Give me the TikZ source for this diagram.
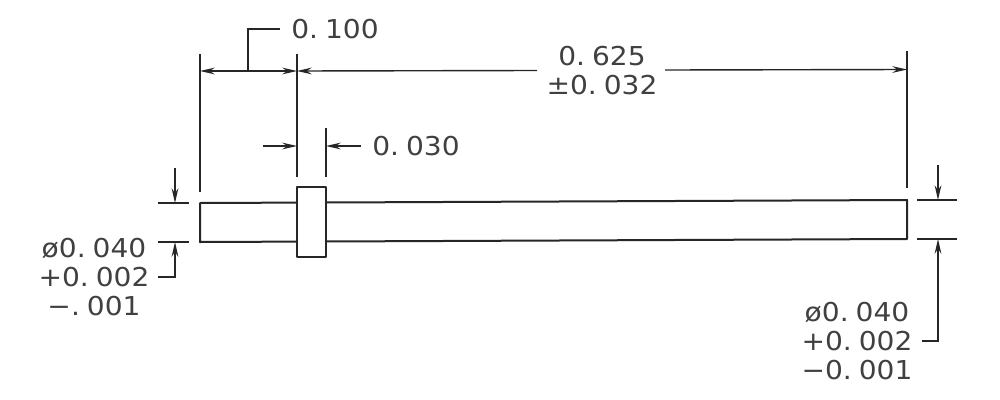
\documentclass[tikz,border=0pt]{standalone}
\usepackage{fontspec}
\newfontfamily\cadfont{DejaVu Sans}[FakeStretch=1.08,WordSpace=0.45]
\newcommand\cadsetup{\cadfont\fontsize{19.5pt}{21.75pt}\selectfont}
\usetikzlibrary{arrows.meta}
\tikzset{
  x=0.75pt,y=-0.75pt,
  part/.style={line width=1.5pt,draw=black!85,line join=round},
  thin line/.style={line width=1.05pt,draw=black!85},
  dimarrow/.style={thin line,-{Stealth[length=11pt,width=5pt]}},
  dimtext/.style={inner sep=0pt,align=center,text=black!75,font=\cadsetup}
}
\begin{document}
\begin{tikzpicture}
\useasboundingbox (0,0) rectangle (1000,400);
% text
\node[dimtext] (t100) at (335,29) {0. 100};
\node[dimtext] (t625) at (602,70.5) {0. 625\\±0. 032};
\node[dimtext] (t030) at (416,146) {0. 030};
\node[dimtext] (tleft) at (94,277) {ø0. 040\\+0. 002\\−. 001};
\node[dimtext] (tright) at (857,341) {ø0. 040\\+0. 002\\−0. 001};
% named points
\coordinate (pinTL) at (200,203);
\coordinate (pinTR) at (907,200);
\coordinate (pinBR) at (907,239);
\coordinate (pinBL) at (200,242);
\coordinate (colTL) at (297,187);
\coordinate (colBR) at (326,257);
\coordinate (pinT1) at (297,202.6);
\coordinate (pinT2) at (326,202.5);
\coordinate (pinB1) at (297,241.6);
\coordinate (pinB2) at (326,241.5);
\coordinate (eA1) at (200,54);
\coordinate (eA2) at (200,192);
\coordinate (eB1) at (297,54);
\coordinate (eB2) at (297,177);
\coordinate (eC1) at (326,128);
\coordinate (eC2) at (326,177);
\coordinate (eD1) at (907,51);
\coordinate (eD2) at (907,188);
\coordinate (dA) at (200,71);
\coordinate (dB) at (297,71);
\coordinate (dMid) at (248,71);
\coordinate (dUp) at (248,29);
\coordinate (dEnd) at (280,29);
\coordinate (g1) at (537,70.5);
\coordinate (g2) at (665,70);
\coordinate (dD) at (907,69.5);
\coordinate (n1) at (263,146);
\coordinate (n2) at (297,146);
\coordinate (n3) at (361,146);
\coordinate (n4) at (326,146);
\coordinate (l1a) at (158,203);
\coordinate (l1b) at (189,203);
\coordinate (l2a) at (158,242);
\coordinate (l2b) at (189,242);
\coordinate (la1) at (175,168);
\coordinate (la2) at (175,203);
\coordinate (la3) at (175,242);
\coordinate (la4) at (175,277);
\coordinate (la5) at (158,277);
\coordinate (r1a) at (917,200);
\coordinate (r1b) at (957,200);
\coordinate (r2a) at (917,239);
\coordinate (r2b) at (957,239);
\coordinate (ra1) at (938,165);
\coordinate (ra2) at (938,200);
\coordinate (ra3) at (938,239);
\coordinate (ra4) at (938,341);
\coordinate (ra5) at (922,341);
% part
\draw[part] (pinT1) -- (pinTL) -- (pinBL) -- (pinB1);
\draw[part] (pinT2) -- (pinTR) -- (pinBR) -- (pinB2);
\draw[part,line width=1.3pt] (colTL) rectangle (colBR);
% extension lines
\draw[thin line] (eA1) -- (eA2);
\draw[thin line] (eB1) -- (eB2);
\draw[thin line] (eC1) -- (eC2);
\draw[thin line] (eD1) -- (eD2);
\draw[thin line] (l1a) -- (l1b);
\draw[thin line] (l2a) -- (l2b);
\draw[thin line] (r1a) -- (r1b);
\draw[thin line] (r2a) -- (r2b);
% horizontal dimensions
\draw[thin line,{Stealth[length=11pt,width=5pt]}-{Stealth[length=11pt,width=5pt]}] (dA) -- (dB);
\draw[thin line] (dMid) -- (dUp) -- (dEnd);
\draw[dimarrow] (g1) -- (dB);
\draw[dimarrow] (g2) -- (dD);
\draw[dimarrow] (n1) -- (n2);
\draw[dimarrow] (n3) -- (n4);
% vertical dimensions
\draw[dimarrow] (la1) -- (la2);
\draw[dimarrow] (la5) -- (la4) -- (la3);
\draw[dimarrow] (ra1) -- (ra2);
\draw[dimarrow] (ra5) -- (ra4) -- (ra3);
\end{tikzpicture}
\end{document}
